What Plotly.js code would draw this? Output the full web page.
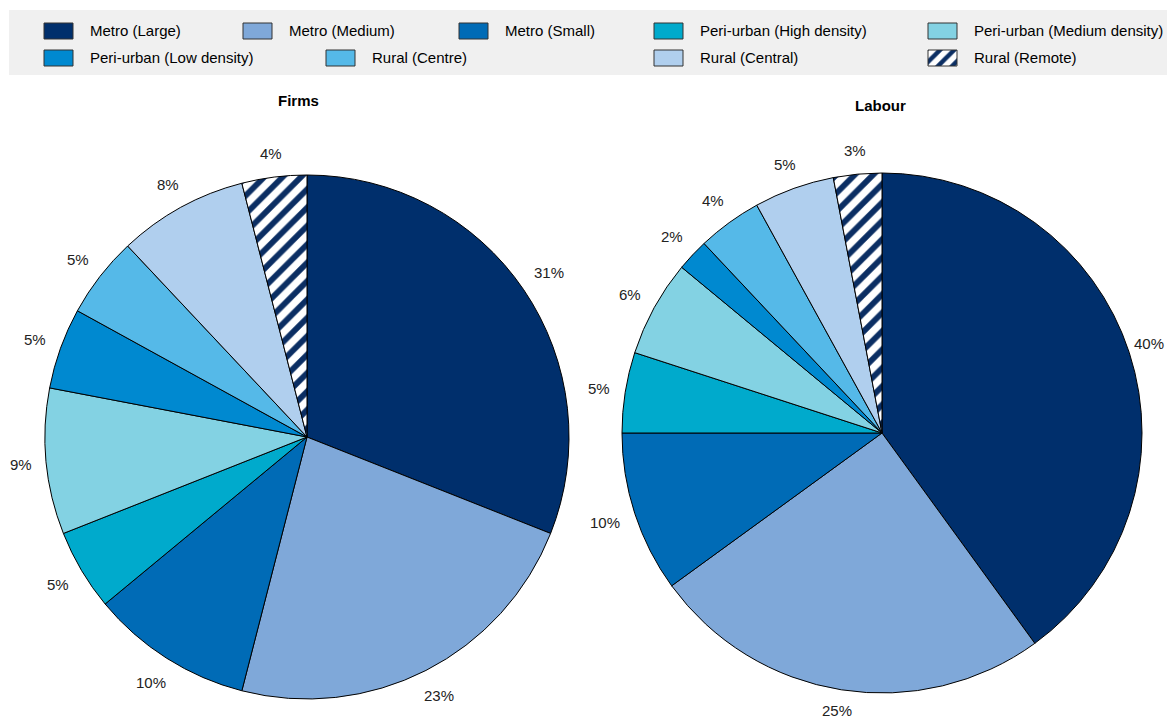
<!DOCTYPE html>
<html>
<head>
<meta charset="utf-8">
<script src="https://cdn.plot.ly/plotly-3.0.1.min.js"></script>
<style>
  html, body { margin: 0; padding: 0; background: #fff; }
  #chart { width: 1167px; height: 721px; }
</style>
</head>
<body>
<div id="chart"></div>
<script>
// Area types, in slice order (clockwise from 12 o'clock)
const categories = [
  'Metro (Large)', 'Metro (Medium)', 'Metro (Small)',
  'Peri-urban (High density)', 'Peri-urban (Medium density)', 'Peri-urban (Low density)',
  'Rural (Centre)', 'Rural (Central)', 'Rural (Remote)'
];

// Shares, in percent
const firmsShare  = [31, 23, 10, 5, 9, 5, 5, 8, 4];
const labourShare = [40, 25, 10, 5, 6, 2, 4, 5, 3];

const panelTitles = ['Firms', 'Labour'];

const sliceColors = [
  '#002F6C', '#7FA8D9', '#006BB6',
  '#00AACC', '#83D2E3', '#0089D0',
  '#55B9E8', '#B0CFEE', '#0B2E63'
];
const slicePatterns = ['', '', '', '', '', '', '', '', '/'];

const W = 1167, H = 721;
const FONT = 'Liberation Sans, Arial, sans-serif';
const LABEL_SIZE = 15;
const px = x => x / W;
const py = y => 1 - y / H;

// Pie placement in pixels: centre and radius
const pies = [
  { values: firmsShare,  cx: 307, cy: 437, r: 262, title: panelTitles[0], tx: 298, ty: 101 },
  { values: labourShare, cx: 882, cy: 433, r: 260, title: panelTitles[1], tx: 880, ty: 106 }
];
const LABEL_GAP = 14;

// Legend layout: [swatch left, swatch top] for each category
const legendSlots = [
  [44, 23], [243, 23], [459, 23], [654, 23], [928, 23],
  [44, 50], [326, 50], [654, 50], [928, 50]
];
const SW = 29, SH = 16, TEXT_DX = 44;

const traces = [];
const annotations = [];
const shapes = [{
  type: 'rect', xref: 'paper', yref: 'paper', layer: 'below',
  x0: px(9), x1: px(1167), y0: py(75), y1: py(10),
  fillcolor: '#F0F0F0', line: { width: 0 }
}];

pies.forEach(p => {
  traces.push({
    type: 'pie',
    labels: categories,
    values: p.values,
    sort: false,
    direction: 'clockwise',
    rotation: 0,
    domain: { x: [px(p.cx - p.r), px(p.cx + p.r)], y: [py(p.cy + p.r), py(p.cy - p.r)] },
    textposition: 'none',
    hovertemplate: '%{label}: %{value}%<extra></extra>',
    marker: {
      colors: sliceColors,
      line: { color: '#000', width: 1 },
      pattern: { shape: slicePatterns, bgcolor: '#ffffff', size: 13, solidity: 0.45 }
    },
    showlegend: false
  });

  // value labels just outside each slice, at its mid-angle
  const total = p.values.reduce((a, b) => a + b, 0);
  let cum = 0;
  p.values.forEach(v => {
    const mid = (cum + v / 2) / total * 2 * Math.PI;
    cum += v;
    const text = v + '%';
    const halfW = (String(v).length * 8.34 + 13.34) / 2;
    const halfH = 8.5;
    const s = Math.sin(mid), c = Math.cos(mid);
    const d = p.r + LABEL_GAP + Math.abs(s) * halfW + Math.abs(c) * halfH;
    let x = p.cx + d * s;
    let y = p.cy - d * c;
    x = Math.min(Math.max(x, halfW + 2), W - halfW - 3);
    y = Math.min(Math.max(y, halfH + 2), H - halfH - 2);
    annotations.push({
      xref: 'paper', yref: 'paper', x: px(x), y: py(y),
      xanchor: 'center', yanchor: 'middle', showarrow: false,
      text: text,
      font: { family: FONT, size: LABEL_SIZE, color: '#222' }
    });
  });

  annotations.push({
    xref: 'paper', yref: 'paper', x: px(p.tx), y: py(p.ty),
    xanchor: 'center', yanchor: 'middle', showarrow: false,
    text: '<b>' + p.title + '</b>',
    font: { family: FONT, size: 15, color: '#000' }
  });
});

// Legend swatches and labels
categories.forEach((name, i) => {
  const [sx, sy] = legendSlots[i];
  if (slicePatterns[i]) {
    traces.push({
      type: 'scatter', mode: 'lines',
      x: [sx, sx + SW, sx + SW, sx, sx],
      y: [sy, sy, sy + SH, sy + SH, sy],
      fill: 'toself',
      fillcolor: '#ffffff',
      fillpattern: { shape: slicePatterns[i], fgcolor: sliceColors[i], bgcolor: '#ffffff', size: 10, solidity: 0.45 },
      line: { color: '#333', width: 1 },
      hoverinfo: 'skip', showlegend: false
    });
  } else {
    shapes.push({
      type: 'rect', xref: 'paper', yref: 'paper',
      x0: px(sx), x1: px(sx + SW), y0: py(sy + SH), y1: py(sy),
      fillcolor: sliceColors[i], line: { color: '#333', width: 1 }
    });
  }
  annotations.push({
    xref: 'paper', yref: 'paper',
    x: px(sx + TEXT_DX), y: py(sy + SH / 2),
    xanchor: 'left', yanchor: 'middle',
    text: name, showarrow: false,
    font: { family: FONT, size: 15, color: '#000' }
  });
});

const layout = {
  width: W, height: H,
  margin: { l: 0, r: 0, t: 0, b: 0 },
  paper_bgcolor: '#ffffff',
  plot_bgcolor: 'rgba(0,0,0,0)',
  showlegend: false,
  xaxis: { range: [0, W], visible: false, fixedrange: true, domain: [0, 1] },
  yaxis: { range: [H, 0], visible: false, fixedrange: true, domain: [0, 1] },
  shapes: shapes,
  annotations: annotations
};

Plotly.newPlot('chart', traces, layout, { displayModeBar: false, staticPlot: true });
</script>
</body>
</html>
